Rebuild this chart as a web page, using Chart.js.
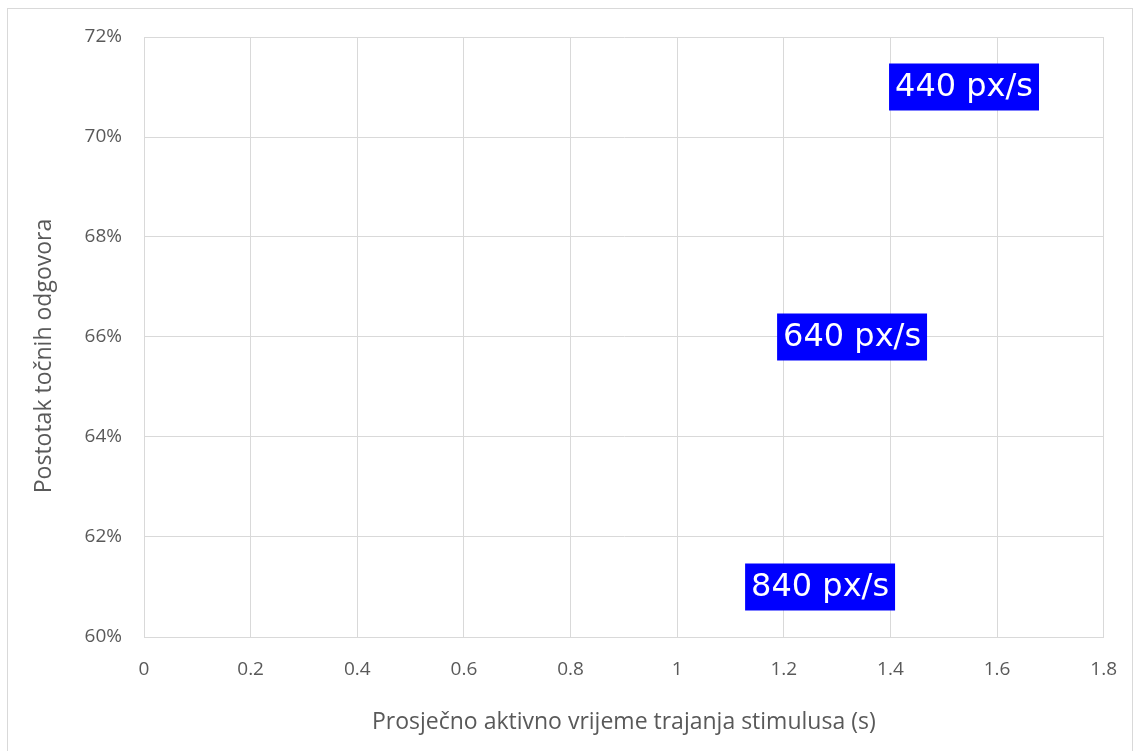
<!DOCTYPE html>
<html>
<head>
<meta charset="utf-8">
<script src="https://cdn.jsdelivr.net/npm/chart.js@4/dist/chart.umd.min.js"></script>
<style>
  html, body { margin: 0; padding: 0; background: #fff; }
  #wrap { position: relative; width: 1138px; height: 751px; overflow: hidden; }
  #frame { position: absolute; left: 7px; top: 8px; width: 1126px; height: 760px; border: 1px solid #d9d9d9; box-sizing: border-box; pointer-events: none; }
  canvas { position: absolute; left: 0; top: 0; }
</style>
</head>
<body>
<div id="wrap">
  <canvas id="c" width="1138" height="751"></canvas>
  <div id="frame"></div>
</div>
<script>
const seriesLabels = ["440 px/s", "640 px/s", "840 px/s"];
const durations = [1.39, 1.18, 1.12];
const accuracy = [0.71, 0.66, 0.61];
const xTicks = [0, 0.2, 0.4, 0.6, 0.8, 1, 1.2, 1.4, 1.6, 1.8];
const yTicks = [0.60, 0.62, 0.64, 0.66, 0.68, 0.70, 0.72];
const xTitle = "Prosječno aktivno vrijeme trajanja stimulusa (s)";
const yTitle = "Postotak točnih odgovora";

const points = durations.map((d, i) => ({ x: d, y: accuracy[i], label: seriesLabels[i] }));

const gridColor = '#d9d9d9';
const tickColor = '#595959';
const fontFam = '"Open Sans", "Liberation Sans", sans-serif';

const labelPlugin = {
  id: 'boxLabels',
  afterDatasetsDraw(chart) {
    const ctx = chart.ctx;
    const meta = chart.getDatasetMeta(0);
    ctx.save();
    ctx.font = '32px "DejaVu Sans", Verdana, sans-serif';
    ctx.textBaseline = 'middle';
    ctx.textAlign = 'left';
    meta.data.forEach((el, i) => {
      const txt = points[i].label;
      const w = ctx.measureText(txt).width;
      const padX = 6, h = 47;
      const x0 = el.x + 4;
      const y0 = el.y - h / 2;
      ctx.fillStyle = '#0000ff';
      ctx.fillRect(x0, y0, w + 2 * padX, h);
      ctx.fillStyle = '#ffffff';
      ctx.fillText(txt, x0 + padX, el.y + 1);
    });
    ctx.restore();
  }
};

const yTitlePlugin = {
  id: 'yTitle',
  afterDraw(chart) {
    const ctx = chart.ctx;
    const area = chart.chartArea;
    ctx.save();
    ctx.font = '23px ' + fontFam;
    ctx.fillStyle = tickColor;
    ctx.textAlign = 'center';
    ctx.textBaseline = 'middle';
    ctx.translate(44, (area.top + area.bottom) / 2 + 19);
    ctx.rotate(-Math.PI / 2);
    ctx.fillText(yTitle, 0, 0);
    ctx.restore();
  }
};

new Chart(document.getElementById('c'), {
  type: 'scatter',
  data: {
    datasets: [{
      data: points,
      pointRadius: 0,
      pointHoverRadius: 0,
      showLine: false
    }]
  },
  options: {
    responsive: false,
    animation: false,
    events: [],
    layout: { padding: { top: 37, right: 34, left: 0, bottom: 0 } },
    plugins: { legend: { display: false }, tooltip: { enabled: false } },
    scales: {
      x: {
        type: 'linear',
        min: 0, max: 1.8,
        afterBuildTicks(scale) { scale.ticks = xTicks.map(v => ({ value: v })); },
        afterFit(scale) { scale.height = 114; },
        grid: { color: gridColor, lineWidth: 1, drawTicks: false },
        border: { color: gridColor, width: 1 },
        ticks: {
          color: tickColor, padding: 21, maxRotation: 0,
          font: { family: fontFam, size: 19 },
          callback: v => String(Number(v.toFixed(1)))
        },
        title: {
          display: true, text: xTitle, color: tickColor,
          font: { family: fontFam, size: 23 },
          padding: { top: 0, bottom: 15 }
        }
      },
      y: {
        type: 'linear',
        min: 0.60, max: 0.72,
        afterBuildTicks(scale) { scale.ticks = yTicks.map(v => ({ value: v })); },
        afterFit(scale) { scale.width = 144; },
        grid: { color: gridColor, lineWidth: 1, drawTicks: false },
        border: { color: gridColor, width: 1 },
        ticks: {
          color: tickColor, padding: 22,
          font: { family: fontFam, size: 19 },
          callback: v => Math.round(v * 100) + '%'
        },
        title: { display: false }
      }
    }
  },
  plugins: [labelPlugin, yTitlePlugin]
});
</script>
</body>
</html>
